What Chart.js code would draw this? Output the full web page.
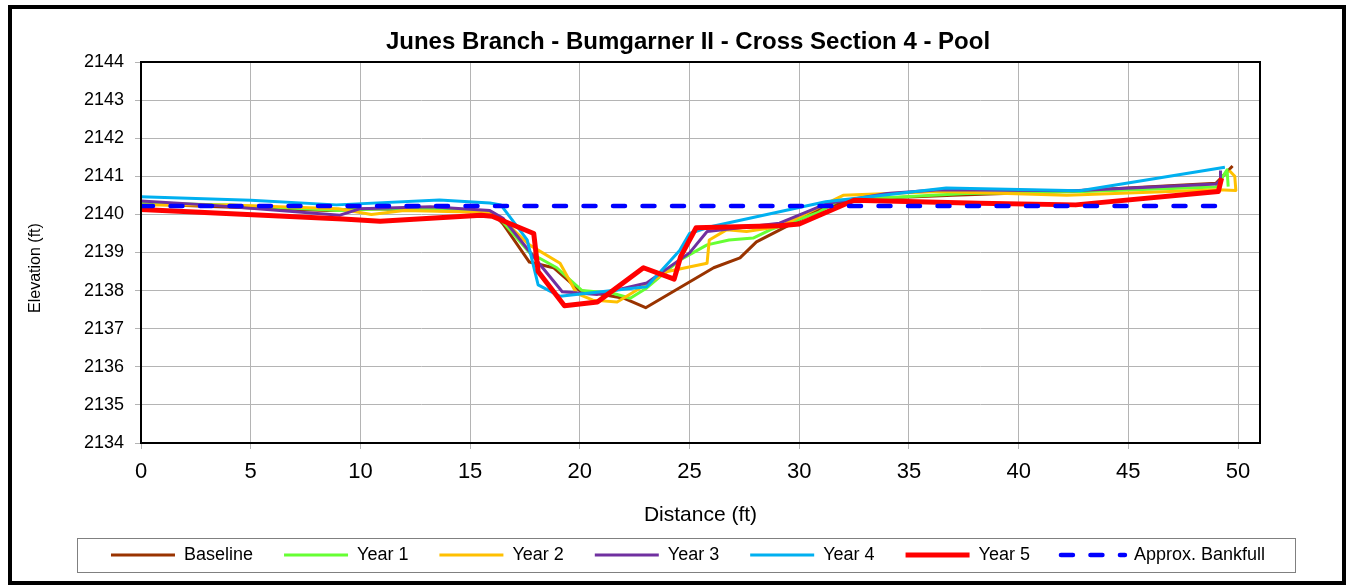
<!DOCTYPE html>
<html>
<head>
<meta charset="utf-8">
<title>Junes Branch - Bumgarner II - Cross Section 4 - Pool</title>
<script src="https://cdn.jsdelivr.net/npm/chart.js@4.4.0/dist/chart.umd.min.js"></script>
<style>
  html, body { margin: 0; padding: 0; background: #fff; }
  #wrap { width: 1348px; height: 586px; }
</style>
</head>
<body>
<div id="wrap"><canvas id="xs4" width="1348" height="586"></canvas></div>
<script>
// station (ft) and elevation (ft) for each survey
const baselineX = [0, 3.5, 8.5, 10.5, 13.5, 16, 16.5, 17.7, 18.8, 20.0, 22.0, 23.0, 26.1, 27.3, 28.05, 31, 32.5, 37, 42, 49.0, 49.75];
const baselineY = [2140.28, 2140.2, 2140.1, 2140.15, 2140.1, 2140.05, 2139.75, 2138.75, 2138.6, 2138.0, 2137.8, 2137.55, 2138.6, 2138.86, 2139.28, 2140.15, 2140.4, 2140.5, 2140.6, 2140.82, 2141.27];

const year1X = [0, 4, 9, 11, 14, 16, 16.5, 17.7, 18.95, 20.1, 21.5, 22.3, 23.05, 24.55, 25.8, 26.8, 27.9, 28.7, 30.9, 31.8, 37.6, 43, 49, 49.5, 49.55];
const year1Y = [2140.3, 2140.25, 2140.1, 2140.15, 2140.12, 2140.05, 2139.8, 2139.0, 2138.6, 2138.0, 2137.93, 2137.8, 2138.07, 2138.8, 2139.2, 2139.33, 2139.38, 2139.6, 2140.06, 2140.37, 2140.55, 2140.6, 2140.72, 2141.17, 2140.73];

const year2X = [0, 4, 9, 10.5, 12, 16, 16.5, 17.7, 19.1, 19.85, 20.6, 21.7, 24.0, 25.8, 25.9, 26.7, 27.6, 29.1, 32.0, 36.4, 42.2, 49.1, 49.9, 49.85, 49.6];
const year2Y = [2140.25, 2140.25, 2140.15, 2140.0, 2140.1, 2140.05, 2139.85, 2139.2, 2138.72, 2137.93, 2137.75, 2137.7, 2138.5, 2138.72, 2139.33, 2139.6, 2139.55, 2139.68, 2140.5, 2140.6, 2140.5, 2140.65, 2140.63, 2141.0, 2141.15];

const year3X = [0, 3, 9.07, 10, 13.2, 15.9, 16.5, 17.95, 19.2, 20.8, 23.05, 25.0, 25.8, 29.1, 30.9, 31.4, 34, 36.4, 42.5, 49, 49.2, 49.2];
const year3Y = [2140.35, 2140.25, 2139.98, 2140.15, 2140.2, 2140.1, 2139.9, 2138.85, 2137.97, 2137.9, 2138.2, 2138.99, 2139.55, 2139.77, 2140.2, 2140.3, 2140.55, 2140.65, 2140.62, 2140.8, 2140.9, 2141.15];

const year4X = [0, 5, 8.9, 13.6, 15.9, 16.4, 17.6, 18.1, 19.1, 23.05, 24.55, 25.0, 25.9, 31.2, 36.7, 42.8, 49.4];
const year4Y = [2140.46, 2140.37, 2140.25, 2140.38, 2140.3, 2140.25, 2139.33, 2138.15, 2137.85, 2138.1, 2139.05, 2139.5, 2139.67, 2140.33, 2140.69, 2140.62, 2141.24];

const year5X = [0, 9.2, 10.9, 15.5, 16.0, 17.9, 18.1, 19.3, 20.8, 22.9, 24.3, 24.6, 25.3, 29.1, 30, 32.5, 38.2, 42.6, 49.1, 49.25];
const year5Y = [2140.13, 2139.88, 2139.82, 2139.98, 2139.95, 2139.5, 2138.5, 2137.6, 2137.7, 2138.6, 2138.3, 2138.9, 2139.65, 2139.7, 2139.75, 2140.37, 2140.29, 2140.25, 2140.6, 2140.95];

const bankfullX = [0, 49.3];
const bankfullY = [2140.22, 2140.22];

const seriesNames = ['Baseline', 'Year 1', 'Year 2', 'Year 3', 'Year 4', 'Year 5', 'Approx. Bankfull'];
const seriesColors = ['#993300', '#66FF33', '#FFC000', '#7030A0', '#00B0F0', '#FF0000', '#0000FF'];
const xRange = [0, 51];
const yRange = [2134, 2144];

function pts(xs, ys) {
    return xs.map((x, i) => ({ x: x, y: ys[i] }));
}

const FONT = 'Arial, "Liberation Sans", sans-serif';

const allX = [baselineX, year1X, year2X, year3X, year4X, year5X, bankfullX];
const allY = [baselineY, year1Y, year2Y, year3Y, year4Y, year5Y, bankfullY];

const datasets = seriesNames.map(function(name, i) {
    const isRed = i === 5;
    const isBank = i === 6;
    return {
        label: name,
        data: pts(allX[i], allY[i]),
        borderColor: seriesColors[i],
        backgroundColor: seriesColors[i],
        borderWidth: isBank ? 4.5 : (isRed ? 5 : 3),
        borderDash: isBank ? [12, 17.5] : [],
        borderCapStyle: isBank ? 'round' : 'butt',
        borderJoinStyle: 'round',
        pointRadius: 0,
        showLine: true,
        tension: 0,
        order: 6 - i
    };
});

// white page, outer frame, plot box and legend box
const framePlugin = {
    id: 'frame',
    beforeDraw(chart) {
        const c = chart.ctx;
        c.save();
        c.fillStyle = '#fff';
        c.fillRect(0, 0, chart.width, chart.height);
        c.restore();
    },
    afterDraw(chart) {
        const c = chart.ctx;
        const a = chart.chartArea;
        c.save();
        c.strokeStyle = '#000';
        c.lineWidth = 2;
        c.strokeRect(a.left, a.top, a.right - a.left, a.bottom - a.top);
        c.lineWidth = 4;
        c.strokeRect(10, 7, 1334, 576);
        const hb = chart.legend.legendHitBoxes;
        if (hb && hb.length) {
            const first = hb[0], last = hb[hb.length - 1];
            const l = first.left - 34, r = last.left + last.width + 30;
            const cy = first.top + first.height / 2;
            c.strokeStyle = '#808080';
            c.lineWidth = 1;
            c.strokeRect(Math.round(l) + 0.5, Math.round(cy - 17) + 0.5, Math.round(r - l), 34);
        }
        c.restore();
    }
};

new Chart(document.getElementById('xs4').getContext('2d'), {
    type: 'scatter',
    data: { datasets: datasets },
    options: {
        responsive: false,
        animation: false,
        devicePixelRatio: 1,
        layout: { padding: { top: 10, left: 28, right: 0, bottom: 12 } },
        scales: {
            x: {
                type: 'linear',
                min: xRange[0],
                max: xRange[1],
                ticks: { stepSize: 5, includeBounds: false, color: '#000', padding: 10, font: { family: FONT, size: 22 } },
                grid: { color: '#b4b4b4', lineWidth: 1, tickLength: 6 },
                border: { color: '#000', width: 2 },
                title: { display: true, text: 'Distance (ft)', color: '#000', font: { family: FONT, size: 21 }, padding: { top: 7.4, bottom: -13 } }
            },
            y: {
                type: 'linear',
                min: yRange[0],
                max: yRange[1],
                ticks: { stepSize: 1, color: '#000', padding: 11, font: { family: FONT, size: 18 }, callback: (v) => String(v) },
                grid: { color: '#b4b4b4', lineWidth: 1, tickLength: 6 },
                border: { color: '#000', width: 2 },
                title: { display: true, text: 'Elevation (ft)       ', color: '#000', font: { family: FONT, size: 16 }, padding: { top: -1.6, bottom: 0 } },
                afterFit(s) { s.width = 113; }
            },
            yR: {
                type: 'linear',
                position: 'right',
                ticks: { display: false },
                grid: { display: false, drawTicks: false },
                border: { display: false },
                afterFit(s) { s.width = 88; }
            }
        },
        plugins: {
            title: {
                display: true,
                text: 'Junes Branch - Bumgarner II - Cross Section 4 - Pool',
                color: '#000',
                font: { family: FONT, size: 24, weight: 'bold' },
                padding: { top: 17.6, bottom: 5.6 }
            },
            legend: {
                position: 'bottom',
                labels: {
                    usePointStyle: true,
                    pointStyle: 'line',
                    pointStyleWidth: 64,
                    padding: 31,
                    color: '#000',
                    font: { family: FONT, size: 18 },
                    sort: (a, b) => a.datasetIndex - b.datasetIndex,
                    generateLabels(chart) {
                        const items = Chart.defaults.plugins.legend.labels.generateLabels(chart);
                        items.forEach(function(it) {
                            const ds = chart.data.datasets[it.datasetIndex];
                            it.lineWidth = ds.borderWidth;
                            it.lineDash = ds.borderDash;
                            it.lineCap = ds.borderCapStyle;
                            it.strokeStyle = ds.borderColor;
                        });
                        return items;
                    }
                }
            },
            tooltip: { enabled: false }
        }
    },
    plugins: [framePlugin]
});
</script>
</body>
</html>
